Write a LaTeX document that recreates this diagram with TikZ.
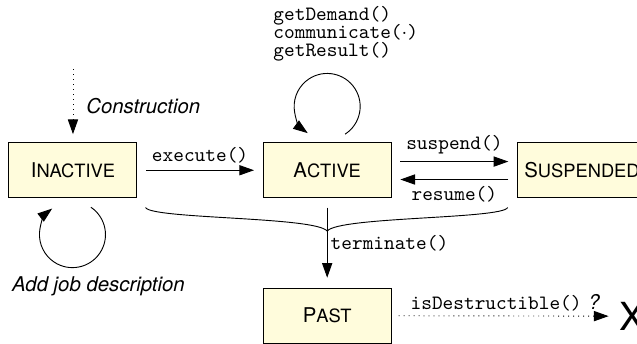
\documentclass[tikz,border=0pt]{standalone}
\usepackage{fontspec}
\setsansfont{TeX Gyre Heros}
\usetikzlibrary{arrows.meta,calc,positioning}
\definecolor{statefill}{RGB}{255,252,220}
\newcommand{\stname}[2]{#1{\fontsize{9}{10}\selectfont #2}}
\tikzset{
  statebox/.style={draw,rectangle,fill=statefill,line width=0.5pt,minimum width=2.21cm,minimum height=0.95cm,font=\sffamily},
  method/.style={font=\ttfamily},
  note/.style={font=\sffamily\itshape},
  gap/.style={shorten >=0.15cm,shorten <=0.15cm}
}

\begin{document}
\begin{tikzpicture}[>={Triangle[length=7.2pt,width=5pt]},line width=0.45pt]
  \clip (0,0) rectangle (11,5.94);
  % states
  \node[statebox] (inactive) at (1.26,3.00) {\stname{I}{NACTIVE}};
  \node[statebox] (active) at (5.65,3.00) {\stname{A}{CTIVE}};
  \node[statebox] (suspended) at (10.05,3.00) {\stname{S}{USPENDED}};
  \node[statebox] (past) at (5.65,0.49) {\stname{P}{AST}};
  \node[font=\sffamily\fontsize{19}{19}\selectfont,inner sep=0pt] (gone) at (10.92,0.48) {X};
  \coordinate (born) at ($(inactive.north)+(0,1.26)$);
  \coordinate (join) at (5.65,1.95);
  \coordinate (lstart) at ($(inactive.south east)+(0.14,-0.16)$);
  \coordinate (rstart) at ($(suspended.south west)+(-0.16,-0.16)$);

  % transitions
  \draw[->,dotted,shorten >=0.14cm] (born) -- node[right,note,xshift=3pt]{Construction} (inactive);
  \draw[->,gap] (inactive) -- node[above,method]{execute()} (active);
  \draw[->,gap] ([yshift=0.15cm]active.east) -- node[above,method]{suspend()} ([yshift=0.15cm]suspended.west);
  \draw[->,gap] ([yshift=-0.16cm]suspended.west) -- node[below,method]{resume()} ([yshift=-0.16cm]active.east);
  \draw[->,shorten >=0.17cm,shorten <=0.16cm] (active) -- node[right,method,inner sep=1.5pt]{terminate()} (past);
  \draw (lstart) .. controls +(0.1,-0.2) and +(-0.2,0.25) .. (join);
  \draw (rstart) .. controls +(-0.1,-0.2) and +(0.2,0.25) .. (join);
  \draw[->,dotted,shorten <=0.12cm,shorten >=0.18cm] (past) -- node[above,inner sep=2pt]{\texttt{isDestructible()} \textsf{\itshape ?}} (gone);

  % self loops
  \draw[->] ([shift={(0.31,0.14)}]active.north) arc[start angle=-57,end angle=234,radius=0.57];
  \draw[->] ([shift={(0.31,-0.155)}]inactive.south) arc[start angle=56,end angle=-232,radius=0.57];
  \node[method,align=left,anchor=west,inner sep=0pt] (calls) at (4.714,5.36)
    {getDemand()\\[-3pt]communicate($\cdot$)\\[-3pt]getResult()};
  \node[note] (jobdesc) at (1.70,1.00) {Add job description};
\end{tikzpicture}
\end{document}
